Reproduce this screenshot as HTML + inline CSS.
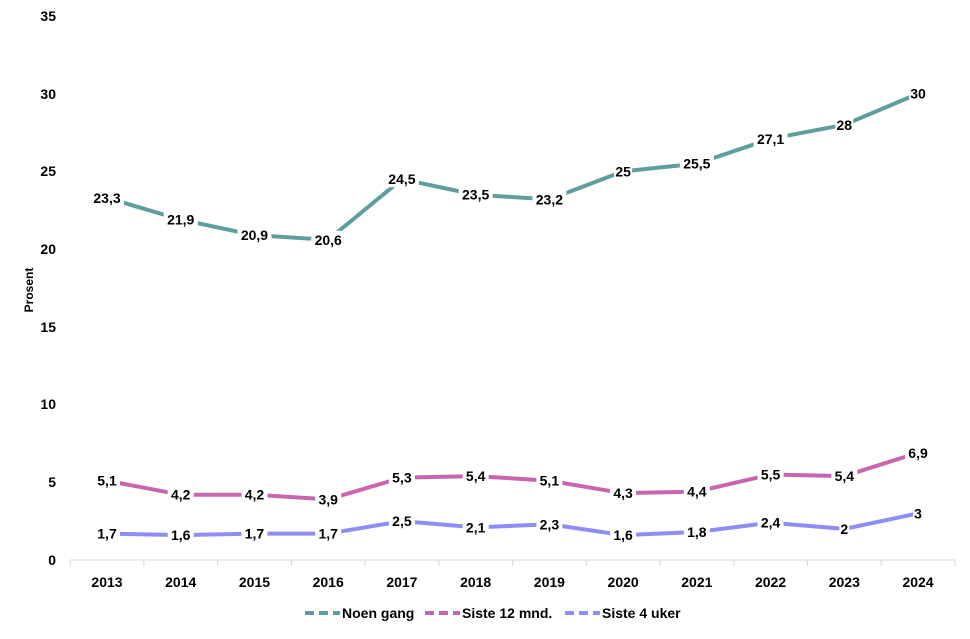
<!DOCTYPE html>
<html><head><meta charset="utf-8"><style>
body{margin:0;background:#fff;}
text{font-family:"Liberation Sans",sans-serif;font-weight:bold;fill:#000;}
</style></head><body>
<svg width="970" height="634" xmlns="http://www.w3.org/2000/svg">
<g font-size="14" text-anchor="end">
<text x="56" y="21">35</text><text x="56" y="99">30</text><text x="56" y="176">25</text>
<text x="56" y="254">20</text><text x="56" y="332">15</text><text x="56" y="409">10</text>
<text x="56" y="487">5</text><text x="56" y="565">0</text>
</g>
<text transform="translate(33,290) rotate(-90)" font-size="12" text-anchor="middle">Prosent</text>
<line x1="70" y1="560" x2="955" y2="560" stroke="#d9d9d9" stroke-width="1"/>
<g stroke="#d9d9d9" stroke-width="1" id="ticks"></g>
<g font-size="14" text-anchor="middle" id="xl"></g>
<g id="series"></g>
<g font-size="14">
<line x1="305" y1="613" x2="340" y2="613" stroke="#5f9e9f" stroke-width="4" stroke-dasharray="9,5"/>
<text x="342" y="618">Noen gang</text>
<line x1="425" y1="613" x2="460" y2="613" stroke="#c865b1" stroke-width="4" stroke-dasharray="9,5"/>
<text x="462" y="618">Siste 12 mnd.</text>
<line x1="565" y1="613" x2="600" y2="613" stroke="#8d8df5" stroke-width="4" stroke-dasharray="9,5"/>
<text x="602" y="618">Siste 4 uker</text>
</g>
</svg>
<script>
const NS="http://www.w3.org/2000/svg";
const X=i=>107+i*73.73, Y=v=>560-v*15.543;
const tk=document.getElementById('ticks'), xl=document.getElementById('xl'), sg=document.getElementById('series');
for(let i=0;i<=12;i++){const l=document.createElementNS(NS,'line');const x=70.2+i*73.73;l.setAttribute('x1',x);l.setAttribute('x2',x);l.setAttribute('y1',560);l.setAttribute('y2',566);tk.appendChild(l);}
for(let i=0;i<12;i++){const t=document.createElementNS(NS,'text');t.setAttribute('x',X(i));t.setAttribute('y',587);t.textContent=2013+i;xl.appendChild(t);}
const S=[["#5f9e9f",[23.3,21.9,20.9,20.6,24.5,23.5,23.2,25,25.5,27.1,28,30]],
["#c865b1",[5.1,4.2,4.2,3.9,5.3,5.4,5.1,4.3,4.4,5.5,5.4,6.9]],
["#8d8df5",[1.7,1.6,1.7,1.7,2.5,2.1,2.3,1.6,1.8,2.4,2,3]]];
S.forEach(([c,d])=>{const p=document.createElementNS(NS,'polyline');p.setAttribute('points',d.map((v,i)=>X(i)+','+Y(v)).join(' '));p.setAttribute('fill','none');p.setAttribute('stroke',c);p.setAttribute('stroke-width','4');p.setAttribute('stroke-linejoin','round');sg.appendChild(p);});
S.forEach(([c,d])=>{d.forEach((v,i)=>{const s=String(v).replace('.',',');const w=s.length*8+2;const r=document.createElementNS(NS,'rect');r.setAttribute('x',X(i)-w/2);r.setAttribute('y',Y(v)-9);r.setAttribute('width',w);r.setAttribute('height',17);r.setAttribute('fill','#fff');sg.appendChild(r);const t=document.createElementNS(NS,'text');t.setAttribute('x',X(i));t.setAttribute('y',Y(v)+5);t.setAttribute('text-anchor','middle');t.setAttribute('font-size','14');t.textContent=s;sg.appendChild(t);});});
</script>
</body></html>
